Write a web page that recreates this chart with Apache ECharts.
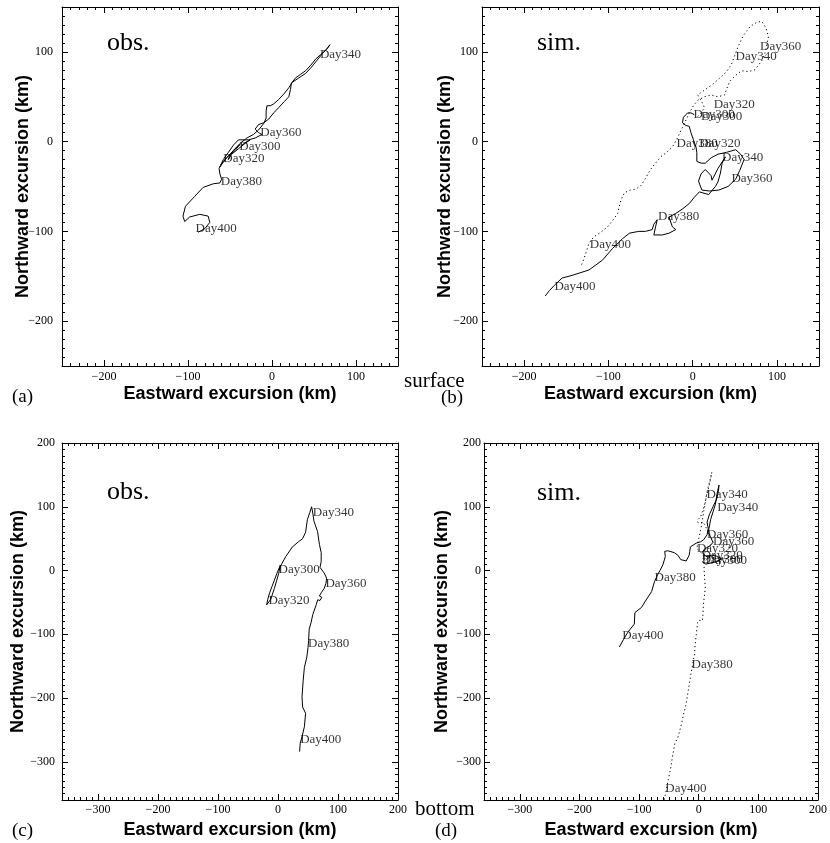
<!DOCTYPE html>
<html>
<head>
<meta charset="utf-8">
<script src="https://cdn.jsdelivr.net/npm/echarts@6/dist/echarts.min.js"></script>
<style>
html, body {margin: 0; padding: 0; background: #fff;}
#main {width: 830px; height: 843px;}
</style>
</head>
<body>
<div id="main"></div>
<script>
// tick labels
var surfaceTicks = [-200, -100, 0, 100];
var bottomTicks = [-300, -200, -100, 0, 100, 200];

// (a) surface, observed drifter track (km east, km north)
var aPath = [[-36,-4],[-30,0],[-26,2],[-32,-2],[-40,-8],[-48,-14],[-52,-20],[-50,-14],[-44,-8],[-38,-3],[-44,-10],[-52,-16],[-58,-22],[-62,-28],[-64,-30],[-60,-26],[-54,-18],[-46,-10],[-38,-2],[-30,4],[-22,8],[-16,13],[-10,20],[-7,26],[-7,34],[-6,40],[-2,40],[2,42],[8,47],[14,53],[20,60],[24,66],[32,71],[40,76],[47,83],[53,90],[60,98],[66,104],[69,108],[65,103],[58,97],[52,92],[46,85],[40,79],[34,75],[28,71],[23,65],[22,58],[20,50],[15,45],[8,38],[2,32],[-4,25],[-10,21],[-16,19],[-20,14],[-16,10],[-12,8],[-20,4],[-28,2],[-40,2],[-46,-4],[-52,-12],[-58,-20],[-63,-30],[-62,-36],[-60,-42],[-62,-46],[-70,-47],[-82,-51],[-92,-61],[-103,-72],[-106,-83],[-104,-89],[-98,-84],[-86,-81],[-76,-83],[-74,-90],[-80,-97],[-88,-101]];
var aDays = [[-39,-5,'Day300'],[-58,-19,'Day320'],[57,97,'Day340'],[-14,10,'Day360'],[-61,-45,'Day380'],[-91,-97,'Day400']];

// (b) surface, simulated tracks
var bSolid = [[2,30],[-2,32],[-6,32],[-11,27],[-12,21],[-8,18],[-4,17],[-2,10],[1,2],[4,-6],[5,-12],[5,-22],[10,-24],[15,-24],[22,-18],[30,-14],[40,-12],[51,-9],[57,-14],[61,-20],[56,-32],[51,-42],[42,-50],[31,-54],[20,-55],[11,-54],[7,-44],[10,-36],[15,-31],[22,-38],[23,-43],[30,-30],[39,-17],[35,-24],[33,-35],[30,-45],[27,-50],[19,-59],[8,-56],[2,-62],[-4,-69],[-12,-75],[-20,-80],[-28,-84],[-24,-95],[-20,-98],[-28,-102],[-36,-104],[-46,-104],[-44,-95],[-42,-87],[-46,-92],[-48,-98],[-56,-100],[-64,-100],[-75,-102],[-83,-108],[-95,-119],[-107,-132],[-123,-143],[-143,-149],[-155,-152],[-164,-160],[-170,-166],[-175,-172]];
var bDotted = [[6,28],[10,32],[14,38],[10,46],[6,52],[12,56],[18,60],[24,64],[30,69],[36,74],[41,79],[46,86],[50,96],[54,106],[60,118],[68,128],[76,133],[82,134],[87,127],[90,117],[88,108],[86,99],[82,90],[74,80],[66,78],[58,79],[50,73],[44,67],[40,58],[38,52],[30,50],[22,52],[14,50],[6,46],[1,40],[-4,32],[-8,24],[-13,14],[-18,4],[-24,-6],[-31,-12],[-38,-17],[-44,-24],[-50,-31],[-56,-41],[-62,-50],[-68,-53],[-74,-54],[-81,-57],[-85,-65],[-87,-72],[-89,-80],[-95,-88],[-101,-95],[-109,-101],[-117,-106],[-123,-113],[-127,-125],[-130,-133],[-133,-140]];
var bSolidDays = [[1,30,'Day300'],[8,-2,'Day320'],[35,-18,'Day340'],[46,-41,'Day360'],[-41,-84,'Day380'],[-164,-161,'Day400']];
var bDottedDays = [[10,28,'Day300'],[25,41,'Day320'],[51,95,'Day340'],[80,106,'Day360'],[-19,-2,'Day380'],[-122,-115,'Day400']];

// (c) bottom, observed
var cPath = [[2,2],[4,8],[2,4],[-2,-5],[-6,-15],[-10,-25],[-14,-35],[-17,-45],[-19,-54],[-16,-56],[-12,-45],[-6,-28],[-2,-15],[1,-5],[3,4],[6,10],[13,22],[24,37],[34,45],[41,50],[46,60],[49,80],[53,91],[56,100],[59,101],[58,90],[60,77],[66,61],[69,41],[72,28],[72,14],[70,5],[77,-4],[81,-12],[80,-20],[77,-28],[72,-35],[69,-40],[73,-42],[70,-47],[66,-46],[64,-53],[58,-69],[55,-82],[52,-92],[51,-110],[50,-121],[48,-136],[44,-152],[42,-172],[40,-198],[41,-214],[46,-224],[44,-245],[40,-261],[37,-271],[36,-284]];
var cDays = [[1,2,'Day300'],[-16,-47,'Day320'],[58,91,'Day340'],[79,-20,'Day360'],[50,-115,'Day380'],[37,-265,'Day400']];

// (d) bottom, simulated
var dSolid = [[6,14],[12,10],[20,12],[30,14],[38,18],[32,22],[22,24],[12,22],[6,28],[10,34],[18,38],[24,44],[20,52],[16,60],[18,70],[20,80],[24,92],[28,104],[30,116],[32,126],[34,134],[33,124],[30,112],[24,100],[18,88],[14,76],[16,66],[14,56],[8,48],[3,45],[-4,43],[-14,37],[-15,30],[-16,24],[-21,15],[-30,17],[-35,24],[-41,28],[-52,31],[-57,30],[-56,22],[-60,9],[-65,0],[-69,-7],[-74,-17],[-79,-33],[-86,-43],[-96,-58],[-107,-66],[-108,-84],[-119,-97],[-126,-108],[-133,-120]];
var dDotted = [[12,16],[16,20],[10,24],[4,28],[-3,34],[-2,42],[0,50],[3,62],[6,78],[9,96],[12,112],[15,128],[19,142],[22,154],[20,144],[16,128],[13,118],[10,104],[6,92],[3,84],[-1,80],[-2,76],[2,74],[7,76],[10,72],[14,64],[20,54],[24,46],[18,38],[12,30],[9,20],[9,8],[9,2],[10,-12],[11,-28],[9,-44],[8,-53],[7,-70],[6,-79],[0,-78],[-2,-82],[-4,-100],[-6,-116],[-7,-131],[-10,-146],[-13,-162],[-17,-185],[-21,-209],[-26,-228],[-30,-245],[-35,-262],[-40,-271],[-44,-292],[-47,-310],[-51,-328],[-55,-348],[-58,-360]];
var dSolidDays = [[5,17,'Day300'],[5,24,'Day320'],[31,99,'Day340'],[14,57,'Day360'],[-74,-11,'Day380'],[-128,-102,'Day400']];
var dDottedDays = [[12,15,'Day300'],[-3,34,'Day320'],[13,119,'Day340'],[24,46,'Day360'],[-12,-148,'Day380'],[-56,-342,'Day400']];

var serif = 'Liberation Serif';

function fmt(v) {
    return v < 0 ? '\u2212' + (-v) : String(v);
}

// panel layouts: grid box, axis range, tick values, label margins, name gaps
var panels = [
    {grid: {left: 62, top: 7, width: 336, height: 359}, min: -250, max: 150, ticks: surfaceTicks, xm: 5, ym: 9, xg: 19, yg: 30},
    {grid: {left: 482, top: 7, width: 337, height: 359}, min: -250, max: 150, ticks: surfaceTicks, xm: 5, ym: 4, xg: 19, yg: 28},
    {grid: {left: 62, top: 443, width: 336, height: 357}, min: -360, max: 200, ticks: bottomTicks, xm: 4, ym: 7, xg: 21, yg: 35},
    {grid: {left: 484, top: 443, width: 335, height: 357}, min: -360, max: 200, ticks: bottomTicks, xm: 4, ym: 3, xg: 21, yg: 33}
];

function makeAxes(dim, g, p) {
    var sides = dim === 'x' ? ['bottom', 'top'] : ['left', 'right'];
    var list = [];
    sides.forEach(function (pos, k) {
        // 10 km minor ticks, axis line, labels
        list.push({
            type: 'value', gridIndex: g, position: pos, min: p.min, max: p.max, interval: 10,
            name: k === 0 ? (dim === 'x' ? 'Eastward excursion (km)' : 'Northward excursion (km)') : '',
            nameLocation: 'middle',
            nameGap: dim === 'x' ? p.xg : p.yg,
            nameMoveOverlap: false,
            nameTextStyle: {fontFamily: 'Liberation Sans', fontWeight: 'bold', fontSize: 18, color: '#000'},
            axisLine: {onZero: false, lineStyle: {color: '#000', width: 1}},
            axisTick: {inside: true, length: 3, lineStyle: {color: '#000', width: 1}},
            axisLabel: k === 0 ? {
                customValues: p.ticks, formatter: fmt, margin: dim === 'x' ? p.xm : p.ym,
                fontFamily: serif, fontSize: 12, color: '#000'
            } : {show: false},
            splitLine: {show: false}
        });
        // major ticks every 100 km
        list.push({
            type: 'value', gridIndex: g, position: pos, min: p.min, max: p.max, interval: 10,
            axisLine: {show: false, onZero: false},
            axisTick: {inside: true, length: 6, customValues: p.ticks, lineStyle: {color: '#000', width: 1}},
            axisLabel: {show: false},
            splitLine: {show: false}
        });
    });
    return list;
}

var xAxes = [], yAxes = [];
panels.forEach(function (p, g) {
    xAxes = xAxes.concat(makeAxes('x', g, p));
    yAxes = yAxes.concat(makeAxes('y', g, p));
});

function track(data, g, dotted) {
    return {
        type: 'line', data: data, xAxisIndex: g * 4, yAxisIndex: g * 4,
        showSymbol: false, symbol: 'none', smooth: false,
        lineStyle: {color: '#000', width: 1, type: dotted ? [1.2, 2.8] : 'solid'}
    };
}

function days(data, g) {
    return {
        type: 'scatter', data: data, xAxisIndex: g * 4, yAxisIndex: g * 4,
        symbolSize: 0, z: 5,
        label: {
            show: true, position: 'right', distance: 0,
            formatter: function (a) { return a.value[2]; },
            fontFamily: serif, fontSize: 13, color: '#000'
        }
    };
}

function txt(s, left, top, size) {
    return {text: s, left: left, top: top, padding: 0,
        textStyle: {fontFamily: serif, fontWeight: 'normal', fontSize: size, color: '#000'}};
}

var chart = echarts.init(document.getElementById('main'));
var option = {
    animation: false,
    backgroundColor: '#fff',
    title: [
        txt('obs.', 107, 30, 26), txt('sim.', 537, 30, 26),
        txt('obs.', 107, 479, 26), txt('sim.', 537, 480, 26),
        txt('(a)', 12, 388, 19), txt('(b)', 441, 389, 19),
        txt('(c)', 12, 822, 19), txt('(d)', 435, 822, 19),
        txt('surface', 404, 371, 21), txt('bottom', 415, 799, 21)
    ],
    grid: panels.map(function (p) { return p.grid; }),
    xAxis: xAxes,
    yAxis: yAxes,
    series: [
        track(aPath, 0, false), days(aDays, 0),
        track(bSolid, 1, false), track(bDotted, 1, true), days(bSolidDays, 1), days(bDottedDays, 1),
        track(cPath, 2, false), days(cDays, 2),
        track(dSolid, 3, false), track(dDotted, 3, true), days(dSolidDays, 3), days(dDottedDays, 3)
    ]
};
chart.setOption(option);
</script>
</body>
</html>
